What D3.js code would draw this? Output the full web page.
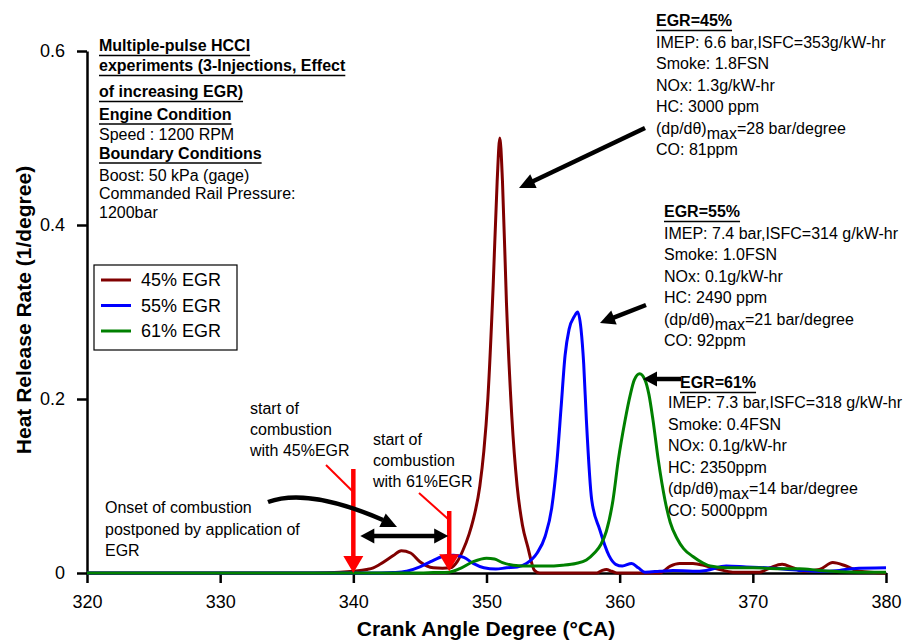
<!DOCTYPE html>
<html>
<head>
<meta charset="utf-8">
<script src="https://cdn.jsdelivr.net/npm/d3@7"></script>
<style>
	body { margin:0; background:#fff; }
	svg { display:block; font-family:Arial, "Liberation Sans", sans-serif; }
</style>
</head>
<body>
<svg id="svgelement" width="916" height="640"></svg>
<script>
	// tick values
	var xTicks = [320,330,340,350,360,370,380];
	var yTicks = [0,0.2,0.4,0.6];

	var seriesNames = ["45% EGR","55% EGR","61% EGR"];
	var seriesColors = ["#800000","#0000ff","#008000"];

	// 45% EGR : crank angle / heat release rate
	var cad45 = [320,336,338,339,340,341,341.5,342,343,343.6,344.3,345,346,346.7,347.3,347.8,348.2,348.7,349,349.5,349.8,350.1,350.5,350.8,351,351.2,351.5,351.9,352.3,352.7,353.1,353.6,354,358.3,358.7,359,359.4,359.8,363,363.8,364.5,365.5,366.5,367.5,368.5,370.5,371.3,372.2,373,373.8,375,376,377,378,380];
	var hrr45 = [0,0,0.0003,0.0008,0.002,0.004,0.006,0.01,0.02,0.0256,0.023,0.013,0.006,0.0055,0.006,0.013,0.025,0.045,0.061,0.1,0.14,0.2,0.33,0.45,0.5,0.45,0.31,0.18,0.1,0.055,0.03,0.003,0,0,0.003,0.004,0.002,0,0,0.008,0.011,0.011,0.008,0.004,0.001,0.001,0.006,0.01,0.006,0.002,0.004,0.012,0.008,0.002,0];

	// 55% EGR
	var cad55 = [320,342,343,344,345,345.8,346.7,347.5,348.3,349,349.8,350.7,351.5,352.3,353,353.8,354.4,354.9,355.3,355.6,355.9,356.2,356.6,356.85,357.1,357.3,357.5,357.9,358.5,359.2,359.7,360.2,360.9,361.4,361.9,363,364,365.5,366.5,368,369.5,371,373.5,375,376.5,377.5,380];
	var hrr55 = [0,0,0.0005,0.002,0.007,0.013,0.019,0.0205,0.018,0.011,0.006,0.0045,0.006,0.007,0.011,0.023,0.042,0.075,0.13,0.19,0.25,0.28,0.295,0.3,0.28,0.24,0.176,0.084,0.05,0.02,0.01,0.008,0.011,0.006,0.001,0.002,0.003,0.002,0.003,0.008,0.007,0.006,0.003,0.002,0.003,0.005,0.006];

	// 61% EGR
	var cad61 = [320,345,346,347.2,348,349,350,350.6,351.2,352,353.3,354.5,355.7,356.7,357.5,358.1,358.6,359,359.5,359.9,360.4,360.8,361.1,361.5,361.9,362.2,362.5,362.9,363.4,363.8,364.3,364.8,365.5,366.2,366.8,368,370,372,373.5,375,376,378,380];
	var hrr61 = [0,0,0.0005,0.001,0.005,0.013,0.017,0.016,0.012,0.009,0.008,0.008,0.009,0.011,0.015,0.023,0.033,0.048,0.084,0.13,0.175,0.205,0.222,0.229,0.222,0.205,0.176,0.13,0.084,0.058,0.04,0.028,0.019,0.012,0.008,0.006,0.006,0.005,0.005,0.003,0.002,0.001,0.001];

	var fs = 16;
	var svg = d3.select("#svgelement");

	var x = d3.scaleLinear().domain([320,380]).range([87,886]);
	var y = d3.scaleLinear().domain([0,0.6]).range([573,51]);

	// axes
	var xAxis = svg.append("g").attr("transform","translate(0,"+y(0)+")")
		.call(d3.axisBottom(x).tickValues(xTicks).tickSize(10).tickSizeOuter(0).tickPadding(12));
	var yAxis = svg.append("g").attr("transform","translate("+x(320)+",0)")
		.call(d3.axisLeft(y).tickValues(yTicks).tickSize(10).tickSizeOuter(0).tickPadding(12)
			.tickFormat(function(d){ return d===0 ? "0" : d.toFixed(1); }));
	svg.selectAll(".domain, .tick line").attr("stroke","#000").attr("stroke-width",2.5);
	svg.selectAll(".tick text").attr("font-size",18).attr("fill","#000")
		.attr("font-family","Arial, 'Liberation Sans', sans-serif");

	svg.append("text").attr("x",486).attr("y",636).attr("text-anchor","middle")
		.attr("font-size",21).attr("font-weight","bold").text("Crank Angle Degree (°CA)");
	svg.append("text").attr("transform","translate(31,310) rotate(-90)").attr("text-anchor","middle")
		.attr("font-size",21).attr("font-weight","bold").text("Heat Release Rate (1/degree)");

	// curves
	var series = [[cad45,hrr45],[cad55,hrr55],[cad61,hrr61]];
	var line = d3.line()
		.x(function(d){ return x(d[0]); })
		.y(function(d){ return y(d[1]); })
		.curve(d3.curveMonotoneX);
	series.forEach(function(s,i) {
		svg.append("path")
			.datum(d3.zip(s[0],s[1]))
			.attr("d",line)
			.attr("fill","none")
			.attr("stroke",seriesColors[i])
			.attr("stroke-width",3);
	});

	// helpers
	function textLine(x0,y0,s,bold,ul,color) {
		var t = svg.append("text").attr("x",x0).attr("y",y0)
			.attr("font-size",fs).attr("font-weight",bold ? "bold" : "normal")
			.attr("fill",color || "#000");
		var parts = s.split("|");
		if (parts.length==3) {
			t.append("tspan").text(parts[0]);
			t.append("tspan").attr("dy",5).text(parts[1]);
			t.append("tspan").attr("dy",-5).text(parts[2]);
		} else t.text(s);
		if (ul) {
			var w = t.node().getComputedTextLength();
			svg.append("line").attr("x1",x0).attr("x2",x0+w).attr("y1",y0+4.5).attr("y2",y0+4.5)
				.attr("stroke","#000").attr("stroke-width",1.6);
		}
	}
	function arrow(x1,y1,x2,y2,color,w,hl,hw) {
		var a = Math.atan2(y2-y1,x2-x1), c = Math.cos(a), s = Math.sin(a);
		var bx = x2-hl*c, by = y2-hl*s;
		svg.append("line").attr("x1",x1).attr("y1",y1).attr("x2",bx+c).attr("y2",by+s)
			.attr("stroke",color).attr("stroke-width",w);
		svg.append("path").attr("fill",color)
			.attr("d","M"+x2+","+y2+"L"+(bx-hw/2*s)+","+(by+hw/2*c)+"L"+(bx+hw/2*s)+","+(by-hw/2*c)+"Z");
	}

	// top-left notes
	var noteLeft = [
		["Multiple-pulse HCCI",51,1],
		["experiments (3-Injections, Effect",71,1],
		["of increasing EGR)",97,1],
		["Engine Condition",119.5,1],
		["Speed : 1200 RPM",140,0],
		["Boundary Conditions",158.5,1],
		["Boost: 50 kPa (gage)",181,0],
		["Commanded Rail Pressure:",199,0],
		["1200bar",217.5,0]
	];
	noteLeft.forEach(function(n){ textLine(99,n[1],n[0],n[2],n[2]); });

	// right notes
	var note45 = ["IMEP: 6.6 bar,ISFC=353g/kW-hr","Smoke: 1.8FSN","NOx: 1.3g/kW-hr","HC: 3000 ppm","(dp/dθ)|max|=28 bar/degree","CO: 81ppm"];
	var note55 = ["IMEP: 7.4 bar,ISFC=314 g/kW-hr","Smoke: 1.0FSN","NOx: 0.1g/kW-hr","HC: 2490 ppm","(dp/dθ)|max|=21 bar/degree","CO: 92ppm"];
	var note61 = ["IMEP: 7.3 bar,ISFC=318 g/kW-hr","Smoke: 0.4FSN","NOx: 0.1g/kW-hr","HC: 2350ppm","(dp/dθ)|max|=14 bar/degree","CO: 5000ppm"];

	textLine(656,26,"EGR=45%",1,1);
	note45.forEach(function(s,i){ textLine(656,47.5+i*21.5,s); });
	textLine(664,217,"EGR=55%",1,1);
	note55.forEach(function(s,i){ textLine(664,238.5+i*21.5,s); });
	textLine(680,388,"EGR=61%",1,1);
	note61.forEach(function(s,i){ textLine(668,408+i*21.5,s); });

	arrow(645,128,519,188,"#000",4.5,16,15);
	arrow(646,305,600,323,"#000",4.5,15,15);
	arrow(681,379,643,379,"#000",4.5,14,15);

	// start of combustion notes
	["start of","combustion","with 45%EGR"].forEach(function(s,i){ textLine(250,414+i*21,s); });
	["start of","combustion","with 61%EGR"].forEach(function(s,i){ textLine(373,445+i*21,s); });
	["Onset of combustion","postponed by application of","EGR"].forEach(function(s,i){ textLine(105,513+i*21.7,s); });

	svg.append("line").attr("x1",326).attr("y1",465).attr("x2",x(340)).attr("y2",492)
		.attr("stroke","#ff0000").attr("stroke-width",2);
	svg.append("line").attr("x1",419).attr("y1",493).attr("x2",x(347.2)).attr("y2",520)
		.attr("stroke","#ff0000").attr("stroke-width",2);
	arrow(x(340),469,x(340),y(0),"#ff0000",4.5,17,20);
	arrow(x(347.2),511,x(347.2),y(0.002),"#ff0000",4.5,17,20);

	// double arrow between the two starts
	arrow(404,536,x(340)+7,536,"#000",4.5,14,15);
	arrow(404,536,x(347.2)-1,536,"#000",4.5,14,15);

	// curved arrow
	svg.append("path").attr("d","M268,502 C292,493 330,497 383,520")
		.attr("fill","none").attr("stroke","#000").attr("stroke-width",4.5);
	arrow(380,519,397,527,"#000",0.1,16,15);

	// legend
	var lg = svg.append("g");
	lg.append("rect").attr("x",94).attr("y",265).attr("width",143).attr("height",85)
		.attr("fill","#fff").attr("stroke","#000").attr("stroke-width",1.2);
	seriesNames.forEach(function(n,i) {
		var yy = 280+i*25.5;
		lg.append("line").attr("x1",101).attr("x2",131).attr("y1",yy).attr("y2",yy)
			.attr("stroke",seriesColors[i]).attr("stroke-width",3);
		lg.append("text").attr("x",141).attr("y",yy).attr("dy","0.35em").attr("font-size",18).text(n);
	});
</script>
</body>
</html>
